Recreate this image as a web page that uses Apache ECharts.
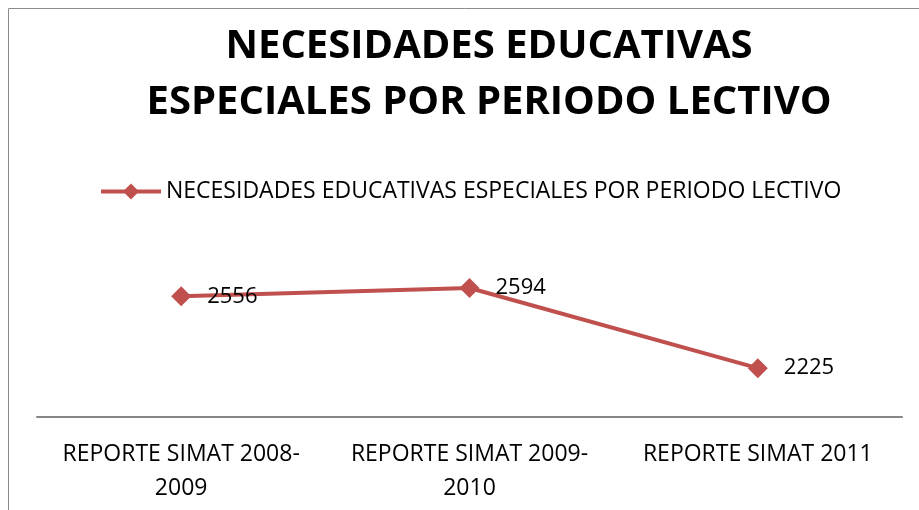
<!DOCTYPE html>
<html>
<head>
<meta charset="utf-8">
<script src="https://cdn.jsdelivr.net/npm/echarts@6/dist/echarts.min.js"></script>
<style>
  html, body { margin: 0; padding: 0; background: #fff; }
  #chart { width: 919px; height: 510px; }
</style>
</head>
<body>
<div id="chart"></div>
<script>
// datos
var categorias = ['REPORTE SIMAT 2008-\n2009', 'REPORTE SIMAT 2009-\n2010', 'REPORTE SIMAT 2011'];
var valores = [2556, 2594, 2225];
var nombreSerie = 'NECESIDADES EDUCATIVAS ESPECIALES POR PERIODO LECTIVO';
var titulo = 'NECESIDADES EDUCATIVAS\nESPECIALES POR PERIODO LECTIVO';

var FONT = '"Open Sans", "Liberation Sans", sans-serif';
var ROJO = '#C0504D';

var chart = echarts.init(document.getElementById('chart'), null, { renderer: 'canvas' });
chart.setOption({
  backgroundColor: '#fff',
  animation: false,
  graphic: [{
    type: 'rect', silent: true,
    shape: { x: 8.5, y: 8.5, width: 1000, height: 1000 },
    style: { fill: 'none', stroke: '#8c8c8c', lineWidth: 1 }
  }],
  title: {
    text: titulo, left: 484, textAlign: 'center', top: 14,
    textStyle: { fontFamily: FONT, fontWeight: 'bold', fontSize: 40, lineHeight: 56, color: '#000' }
  },
  legend: {
    left: 94, top: 175,
    itemWidth: 60, itemHeight: 20, itemGap: 5,
    lineStyle: { width: 4 },
    textStyle: { fontFamily: FONT, fontSize: 23, color: '#000' },
    data: [nombreSerie]
  },
  grid: { left: 37, right: 17, top: 265, bottom: 93 },
  xAxis: {
    type: 'category', data: categorias,
    axisLine: { lineStyle: { color: '#868686', width: 2 } },
    axisTick: { show: false },
    axisLabel: { interval: 0, hideOverlap: false, fontFamily: FONT, fontSize: 23, color: '#000', lineHeight: 34, margin: 20 }
  },
  yAxis: {
    type: 'value', min: 2000, max: 2700, show: false,
    splitLine: { show: false }
  },
  series: [{
    name: nombreSerie, type: 'line', data: valores,
    symbol: 'diamond', symbolSize: 20,
    lineStyle: { color: ROJO, width: 4 },
    itemStyle: { color: ROJO },
    label: { show: true, position: 'right', distance: 16, fontFamily: FONT, fontSize: 22, color: '#000' }
  }]
});
</script>
</body>
</html>
